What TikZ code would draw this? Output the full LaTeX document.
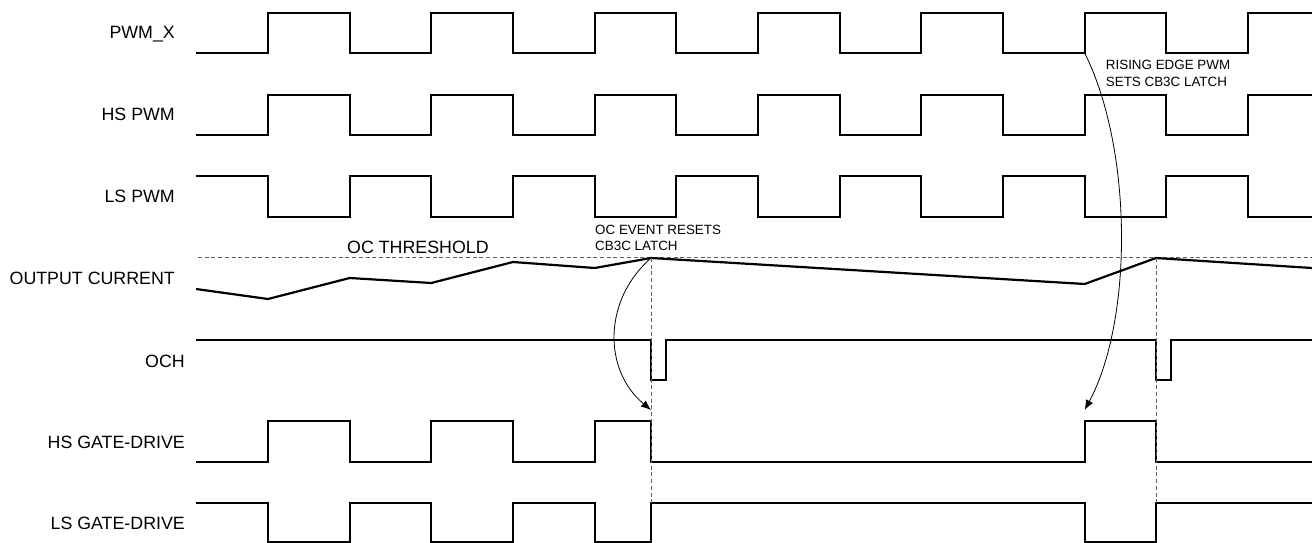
\documentclass[tikz,border=0pt]{standalone}
\usepackage{fontspec}
\setmainfont{Liberation Sans}
\usetikzlibrary{arrows.meta}
\begin{document}
\begin{tikzpicture}[x=1pt,y=-1pt,
  sig/.style={line width=2.2pt,line join=miter,line cap=butt},
  thr/.style={line width=0.9pt,gray!75!black,dash pattern=on 4pt off 2.7pt},
  lbl/.style={anchor=base east,inner sep=0pt,font=\fontsize{17.8}{20}\selectfont},
  note/.style={anchor=base west,inner sep=0pt,font=\fontsize{13.4}{16}\selectfont},
  cause/.style={line width=0.8pt,-{Latex[length=10pt,width=8pt]}}]
\useasboundingbox (0,0) rectangle (1312,543);
% labels
\node[lbl] (lpwmx) at (175,39) {PWM\_X};
\node[lbl] (lhspwm) at (175,121) {HS PWM};
\node[lbl] (llspwm) at (175,202) {LS PWM};
\node[lbl] (lcur) at (175,284) {OUTPUT CURRENT};
\node[lbl] (loch) at (185,367) {OCH};
\node[lbl] (lhsgd) at (185,448) {HS GATE-DRIVE};
\node[lbl] (llsgd) at (185,529) {LS GATE-DRIVE};
% PWM square waves
\foreach \lo/\hi in {53/13, 135/95, 176/217}{
  \draw[sig] (196,\lo) -| (268,\hi) -| (349.7,\lo) -| (431.3,\hi) -| (513,\lo)
    -| (594.7,\hi) -| (676.3,\lo) -| (758,\hi) -| (839.7,\lo) -| (921.3,\hi)
    -| (1003,\lo) -| (1084.7,\hi) -| (1166.3,\lo) -| (1248,\hi) -- (1312,\hi);
}
% threshold
\draw[thr] (198,257.7) -- (1312,257.7);
\node[anchor=base west,inner sep=0pt,font=\fontsize{17.8}{20}\selectfont] (thrlbl) at (347,253) {OC THRESHOLD};
% output current
\coordinate (peak1) at (651,258);
\coordinate (peak2) at (1156,258);
\draw[sig] (196,289) -- (268,299) -- (349.7,278) -- (431.3,283) -- (513,262)
  -- (594.7,268) -- (peak1) -- (1084.7,284) -- (peak2) -- (1312,268);
% OCH
\draw[sig] (196,340) -| (651,380) -| (666,340) -| (1156,380) -| (1171,340) -- (1312,340);
% gate drives
\draw[sig] (196,462) -| (268,421) -| (349.7,462) -| (431.3,421) -| (513,462)
  -| (594.7,421) -| (651,462) -| (1084.7,421) -| (1156,462) -- (1312,462);
\draw[sig] (196,503) -| (268,542) -| (349.7,503) -| (431.3,542) -| (513,503)
  -| (594.7,542) -| (651,503) -| (1084.7,542) -| (1156,503) -- (1312,503);
% vertical dashed markers
\draw[thr] (peak1) -- (651,503);
\draw[thr] (peak2) -- (1156,503);
% annotations
\node[note] (oc1) at (595,234) {OC EVENT RESETS};
\node[note] (oc2) at (595,250) {CB3C LATCH};
\node[note] (re1) at (1105.7,70) {RISING EDGE PWM};
\node[note] (re2) at (1105.7,87) {SETS CB3C LATCH};
% cause arrows
\coordinate (rise) at (1084.7,53);
\coordinate (hstip1) at (651,410);
\coordinate (hstip2) at (1084.7,410);
\draw[cause] (peak1) .. controls (603,300) and (603,370) .. (hstip1);
\draw[cause] (rise) .. controls (1133,150) and (1133,320) .. (hstip2);
\end{tikzpicture}
\end{document}
